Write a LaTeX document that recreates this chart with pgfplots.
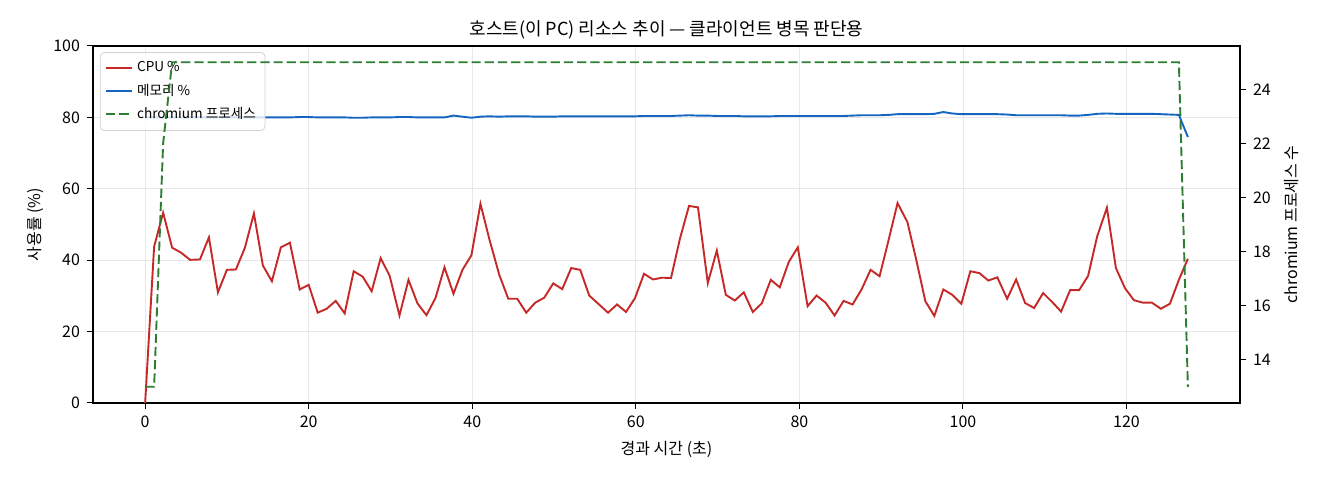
\documentclass[border=0pt]{standalone}
\usepackage{fontspec}
\setmainfont{Noto Sans CJK KR}
\usepackage{pgfplots}
\pgfplotsset{compat=1.18}
\usepackage{pgfplotstable}

\definecolor{cpured}{HTML}{C62828}
\definecolor{memblue}{HTML}{1565C0}
\definecolor{procgreen}{HTML}{2E7D32}

% t: elapsed seconds, cpu/mem: percent, proc: chromium process count
\pgfplotstableread{
t cpu mem proc
0.0 0.0 80.0 13
1.1 43.8 80.0 13
2.2 53.3 80.0 22
3.3 43.5 80.0 25
4.4 42.1 80.0 25
5.5 40.1 80.0 25
6.7 40.2 80.0 25
7.8 46.4 80.0 25
8.9 31.0 80.0 25
10.0 37.3 80.0 25
11.1 37.4 80.0 25
12.2 43.5 80.0 25
13.3 53.1 80.0 25
14.4 38.5 80.0 25
15.5 34.1 80.0 25
16.6 43.6 80.0 25
17.7 44.9 80.0 25
18.9 31.8 80.1 25
20.0 33.1 80.1 25
21.1 25.3 80.0 25
22.2 26.4 80.0 25
23.3 28.6 80.0 25
24.4 25.1 80.0 25
25.5 36.9 79.9 25
26.6 35.4 79.9 25
27.7 31.3 80.0 25
28.8 40.6 80.0 25
29.9 35.6 80.0 25
31.1 24.5 80.1 25
32.2 34.5 80.1 25
33.3 27.9 80.0 25
34.4 24.6 80.0 25
35.5 29.4 80.0 25
36.6 38.0 80.0 25
37.7 30.6 80.5 25
38.8 37.3 80.2 25
39.9 41.4 79.9 25
41.0 55.8 80.2 25
42.1 45.8 80.3 25
43.3 35.9 80.2 25
44.4 29.2 80.3 25
45.5 29.2 80.3 25
46.6 25.3 80.3 25
47.7 28.1 80.2 25
48.8 29.5 80.2 25
49.9 33.5 80.2 25
51.0 31.9 80.3 25
52.1 37.8 80.3 25
53.2 37.3 80.3 25
54.3 30.1 80.3 25
55.5 27.6 80.3 25
56.6 25.3 80.3 25
57.7 27.6 80.3 25
58.8 25.5 80.3 25
59.9 29.4 80.3 25
61.0 36.2 80.4 25
62.1 34.6 80.4 25
63.2 35.1 80.4 25
64.3 35.0 80.4 25
65.4 46.1 80.5 25
66.5 55.2 80.6 25
67.6 54.8 80.5 25
68.8 33.6 80.5 25
69.9 42.7 80.4 25
71.0 30.3 80.4 25
72.1 28.7 80.4 25
73.2 31.0 80.3 25
74.3 25.5 80.3 25
75.4 27.9 80.3 25
76.5 34.5 80.3 25
77.6 32.4 80.4 25
78.7 39.5 80.4 25
79.8 43.6 80.4 25
81.0 27.1 80.4 25
82.1 30.1 80.4 25
83.2 28.1 80.4 25
84.3 24.5 80.4 25
85.4 28.6 80.4 25
86.5 27.6 80.5 25
87.6 31.8 80.6 25
88.7 37.3 80.6 25
89.8 35.5 80.6 25
90.9 45.6 80.7 25
92.0 56.0 80.9 25
93.2 50.7 80.9 25
94.3 40.0 80.9 25
95.4 28.5 80.9 25
96.5 24.4 81.0 25
97.6 31.8 81.5 25
98.7 30.3 81.1 25
99.8 27.8 80.9 25
100.9 36.9 80.9 25
102.0 36.4 80.9 25
103.1 34.3 80.9 25
104.2 35.2 80.9 25
105.4 29.2 80.8 25
106.5 34.6 80.6 25
107.6 28.0 80.6 25
108.7 26.6 80.6 25
109.8 30.8 80.6 25
110.9 28.3 80.6 25
112.0 25.6 80.6 25
113.1 31.6 80.5 25
114.2 31.6 80.5 25
115.3 35.6 80.7 25
116.4 46.6 81.0 25
117.6 54.7 81.1 25
118.7 37.8 81.0 25
119.8 32.2 81.0 25
120.9 28.8 81.0 25
122.0 28.1 81.0 25
123.1 28.1 81.0 25
124.2 26.4 80.9 25
125.3 27.8 80.8 25
126.4 34.5 80.7 25
127.5 40.4 74.5 13
}\hostdata

\begin{document}
\begin{tikzpicture}
\pgfplotsset{
    every axis/.append style={
        scale only axis,
        width=573.5pt, height=178.5pt,
        xmin=-6.375, xmax=133.875,
        tick align=outside,
        major tick length=3pt,
        tick style={black, line width=0.5pt},
        axis line style={line width=0.6pt},
        tick label style={font=\fontsize{8}{9}\selectfont},
        label style={font=\fontsize{8}{9}\selectfont},
        /pgf/number format/assume math mode=true,
    },
}
\begin{axis}[
    name=main,
    ymin=0, ymax=100,
    xtick={0,20,...,120},
    ytick={0,20,...,100},
    xtick pos=left, ytick pos=left,
    grid=major,
    grid style={gray!18, line width=0.4pt},
    title={호스트(이 PC) 리소스 추이 — 클라이언트 병목 판단용},
    title style={font=\fontsize{9}{10}\selectfont, yshift=-6pt},
    xlabel={경과 시간 (초)},
    ylabel={사용률 (\%)},
    ylabel style={yshift=-2pt},
    legend style={
        at={(0.006,0.983)}, anchor=north west,
        font=\fontsize{6.8}{7.5}\selectfont,
        draw=gray!35, rounded corners=2pt,
        fill=white, fill opacity=0.8, text opacity=1,
        row sep=0.6pt, inner sep=2.5pt,
    },
    legend cell align={left},
    legend image code/.code={\draw[#1] (0pt,0pt) -- (13pt,0pt);},
]
\addlegendimage{cpured, line width=0.9pt}
\addlegendentry{CPU \%}
\addlegendimage{memblue, line width=0.9pt}
\addlegendentry{메모리 \%}
\addlegendimage{procgreen, line width=0.9pt, dash pattern=on 4.6pt off 2pt}
\addlegendentry{chromium 프로세스}
\addplot[cpured, line width=0.95pt, forget plot] table[x=t, y=cpu] {\hostdata};
\addplot[memblue, line width=0.95pt, forget plot] table[x=t, y=mem] {\hostdata};
\end{axis}

\begin{axis}[
    ymin=12.4, ymax=25.6,
    ytick={14,16,...,24},
    axis x line=none,
    axis y line*=right,
    ylabel={chromium 프로세스 수},
]
\addplot[procgreen, line width=0.95pt, dash pattern=on 4.6pt off 2pt] table[x=t, y=proc] {\hostdata};
\end{axis}

\path[use as bounding box] ([xshift=-46.5pt, yshift=-38.5pt]main.south west)
    rectangle ([xshift=613.5pt, yshift=201.5pt]main.south west);
\end{tikzpicture}
\end{document}
